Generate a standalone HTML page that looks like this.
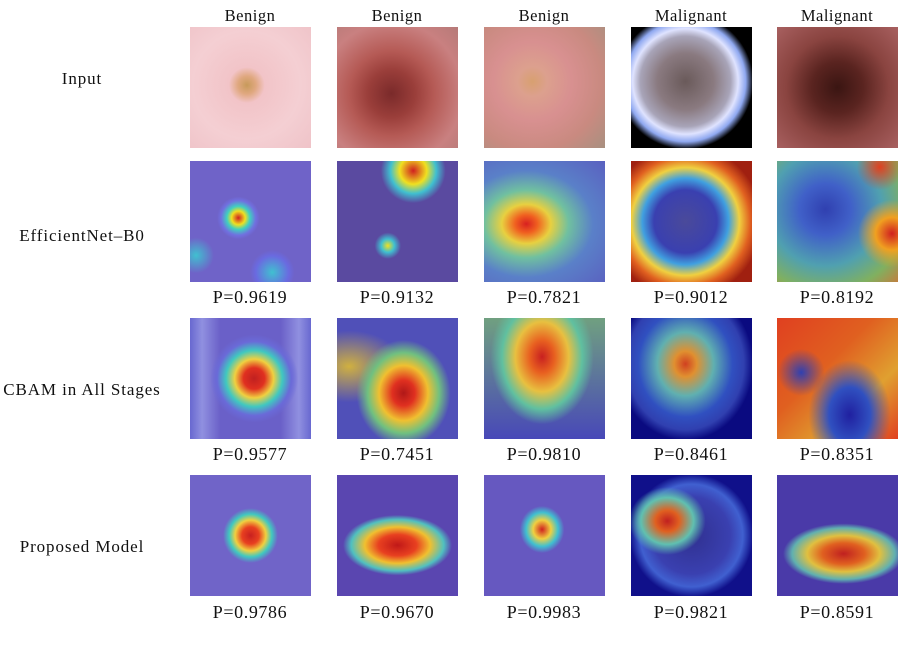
<!DOCTYPE html>
<html><head><meta charset="utf-8"><style>
body{margin:0;width:922px;height:646px;background:#fff;font-family:"Liberation Serif",serif;position:relative;overflow:hidden}
.t{position:absolute;width:121px;height:121px}
.lab{position:absolute;font-size:16.5px;letter-spacing:0.5px;color:#111;text-align:center;width:160px}
.p{position:absolute;font-size:18px;letter-spacing:0.6px;color:#111;text-align:center;width:140px}
.r{position:absolute;font-size:17px;letter-spacing:0.9px;color:#111;text-align:center;width:170px}
</style></head><body>
<div class="lab" style="left:170px;top:6px">Benign</div>
<div class="lab" style="left:317px;top:6px">Benign</div>
<div class="lab" style="left:464px;top:6px">Benign</div>
<div class="lab" style="left:611px;top:6px">Malignant</div>
<div class="lab" style="left:757px;top:6px">Malignant</div>

<div class="r" style="left:-3px;top:69px">Input</div>
<div class="r" style="left:-3px;top:226px">EfficientNet–B0</div>
<div class="r" style="left:-3px;top:380px">CBAM in All Stages</div>
<div class="r" style="left:-3px;top:537px">Proposed Model</div>

<div class="t" style="left:190px;top:27px;background:radial-gradient(circle at 47% 48%,#c79a5a 0,#e0a880 10%,#f2c4c8 20%,#f4cfd3 60%,#efc3c8 100%)"></div>
<div class="t" style="left:337px;top:27px;background:radial-gradient(ellipse at 45% 55%,#7a2a2a 0,#9a3e3a 25%,#b55a55 45%,#c98080 75%,#b67a78 100%)"></div>
<div class="t" style="left:484px;top:27px;background:radial-gradient(circle at 40% 45%,#d8a070 0,#dca08e 15%,#d89090 40%,#c98a80 70%,#a89080 100%)"></div>
<div class="t" style="left:631px;top:27px;background:radial-gradient(circle at 45% 45%,#6a5a5a 0,#8a7a80 30%,#a8a4b8 48%,#dfe3ff 56%,#8fa8f0 64%,#000 72%)"></div>
<div class="t" style="left:777px;top:27px;background:radial-gradient(ellipse at 50% 50%,#3a1512 0,#5a2420 30%,#8a4440 60%,#a86060 100%)"></div>

<div class="t" style="left:190px;top:161px;background:radial-gradient(circle at 40% 47%,#d02020 0,#f0e020 7%,#40d0c0 12%,#7070e0 18%,transparent 22%),radial-gradient(circle at 68% 92%,#40c0d0 0,#6a6ae0 12%,transparent 16%),radial-gradient(circle at 5% 78%,#40c0d0 0,transparent 12%),#6f63c8"></div>
<div class="t" style="left:337px;top:161px;background:radial-gradient(circle at 63% 8%,#d02020 0,#f0e020 10%,#40c0d0 17%,transparent 24%),radial-gradient(circle at 42% 70%,#f0e020 0,#40c0d0 6%,transparent 12%),#5a4aa0"></div>
<div class="t" style="left:484px;top:161px;background:radial-gradient(ellipse at 35% 52%,#d82020 0,#f06020 10%,#e8d040 22%,#70c0a0 38%,#5a80c8 60%,#5a60c0 100%)"></div>
<div class="t" style="left:631px;top:161px;background:radial-gradient(circle at 45% 50%,#4a4a9a 0,#3a40b0 35%,#40a0e0 48%,#f0d040 60%,#e06020 72%,#a02010 85%)"></div>
<div class="t" style="left:777px;top:161px;background:radial-gradient(circle at 95% 60%,#d02020 0,#f0a020 12%,transparent 25%),radial-gradient(circle at 85% 5%,#e04020 0,transparent 15%),radial-gradient(circle at 40% 40%,#3040b0 0,#4060c8 25%,#50a0b0 55%,#80b060 80%,#c08040 100%)"></div>

<div class="t" style="left:190px;top:318px;background:radial-gradient(circle at 53% 50%,#c02020 0,#e03020 12%,#f0d040 22%,#40c8c0 32%,#6a6ad8 42%,transparent 50%),linear-gradient(90deg,#6868d0 0,#9090e0 10%,#6a60c8 25%,#6a60c8 75%,#9090e0 90%,#6868d0 100%)"></div>
<div class="t" style="left:337px;top:318px;background:radial-gradient(ellipse at 55% 62%,#b01818 0,#e03020 12%,#f0c030 26%,#70c080 38%,transparent 50%),radial-gradient(ellipse at 10% 40%,#d0b040 0,transparent 35%),#5050b8"></div>
<div class="t" style="left:484px;top:318px;background:radial-gradient(ellipse at 48% 32%,#c82020 0,#e86020 14%,#e8c040 30%,#60c0a0 45%,transparent 58%),linear-gradient(#70a080,#4848b8)"></div>
<div class="t" style="left:631px;top:318px;background:radial-gradient(ellipse at 45% 38%,#d04020 0,#e09030 12%,#60b0b0 30%,#3050c0 50%,#3040b0 62%,#0a0a80 72%)"></div>
<div class="t" style="left:777px;top:318px;background:radial-gradient(ellipse at 60% 80%,#2020a0 0,#3050c0 20%,transparent 40%),radial-gradient(circle at 20% 45%,#3040b0 0,transparent 20%),linear-gradient(135deg,#e04020,#e06020 40%,#e0a030 70%,#e04020)"></div>

<div class="t" style="left:190px;top:475px;background:radial-gradient(ellipse at 50% 50%,#c82020 0,#e84020 10%,#f0d040 18%,#40c8c0 25%,transparent 32%),#7064c8"></div>
<div class="t" style="left:337px;top:475px;background:radial-gradient(ellipse 45% 25% at 50% 58%,#c01818 0,#e84020 35%,#f0c030 60%,#50c0c0 85%,transparent 100%),#5a46b0"></div>
<div class="t" style="left:484px;top:475px;background:radial-gradient(ellipse at 48% 45%,#d02020 0,#f0d040 10%,#40c0d0 18%,transparent 25%),#6658c0"></div>
<div class="t" style="left:631px;top:475px;background:radial-gradient(ellipse at 30% 38%,#c02020 0,#e06020 10%,#60c0b0 22%,transparent 32%),radial-gradient(circle at 50% 50%,#303090 0,#3a40b0 45%,#4060d0 60%,#10108a 72%)"></div>
<div class="t" style="left:777px;top:475px;background:radial-gradient(ellipse 50% 25% at 55% 65%,#c02020 0,#e06020 35%,#e0c040 60%,#60b0b0 85%,transparent 100%),#4a3aa8"></div>

<div class="p" style="left:180px;top:287px">P=0.9619</div>
<div class="p" style="left:327px;top:287px">P=0.9132</div>
<div class="p" style="left:474px;top:287px">P=0.7821</div>
<div class="p" style="left:621px;top:287px">P=0.9012</div>
<div class="p" style="left:767px;top:287px">P=0.8192</div>
<div class="p" style="left:180px;top:444px">P=0.9577</div>
<div class="p" style="left:327px;top:444px">P=0.7451</div>
<div class="p" style="left:474px;top:444px">P=0.9810</div>
<div class="p" style="left:621px;top:444px">P=0.8461</div>
<div class="p" style="left:767px;top:444px">P=0.8351</div>
<div class="p" style="left:180px;top:602px">P=0.9786</div>
<div class="p" style="left:327px;top:602px">P=0.9670</div>
<div class="p" style="left:474px;top:602px">P=0.9983</div>
<div class="p" style="left:621px;top:602px">P=0.9821</div>
<div class="p" style="left:767px;top:602px">P=0.8591</div>
</body></html>
